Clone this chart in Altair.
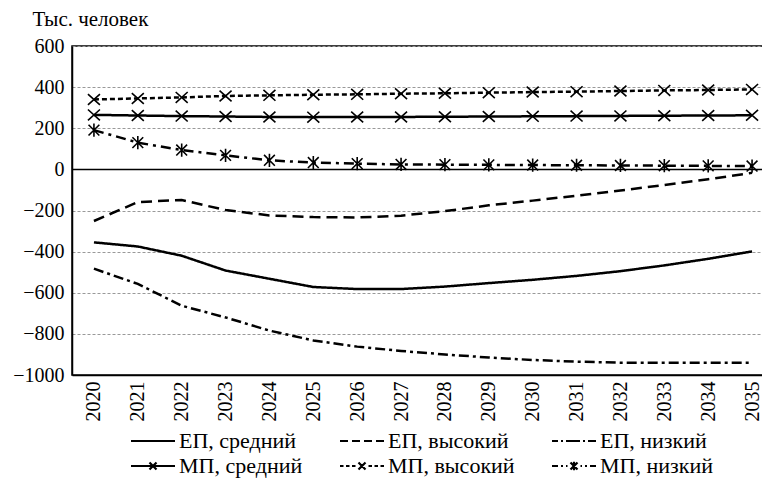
import altair as alt
import pandas as pd

years = [str(y) for y in range(2020, 2036)]

series_names = ["ЕП, средний", "ЕП, высокий", "ЕП, низкий",
                "МП, средний", "МП, высокий", "МП, низкий"]

ep_mid = [-355, -375, -420, -492, -532, -572, -582, -582, -570, -553, -537, -518, -495, -467, -435, -399]
ep_high = [-251, -159, -149, -198, -224, -232, -234, -225, -203, -175, -152, -128, -103, -76, -48, -17]
ep_low = [-483, -557, -663, -720, -784, -832, -862, -883, -900, -915, -927, -935, -940, -940, -940, -940]
mp_mid = [265, 262, 259, 257, 255, 254, 255, 255, 256, 257, 258, 259, 260, 261, 262, 263]
mp_high = [340, 345, 350, 357, 360, 363, 365, 368, 370, 373, 376, 378, 381, 384, 386, 389]
mp_low = [191, 130, 94, 68, 44, 33, 28, 24, 23, 22, 21, 20, 19, 18, 17, 16]

y_ticks = [-1000, -800, -600, -400, -200, 0, 200, 400, 600]
zero_line = [0]

all_values = [ep_mid, ep_high, ep_low, mp_mid, mp_high, mp_low]
rows = []
for name, vals in zip(series_names, all_values):
    for yr, v in zip(years, vals):
        rows.append({"year": yr, "value": v, "series": name})
df = pd.DataFrame(rows)

mp_names = series_names[3:]

dash_scale = alt.Scale(domain=series_names,
                       range=[[1, 0], [11, 6], [10, 4, 3, 4], [1, 0], [5, 3], [10, 5, 3, 5]])
width_scale = alt.Scale(domain=series_names, range=[2.5, 2.5, 2.5, 2.2, 2.2, 2.2])

FONT = "'Liberation Serif', 'Times New Roman', 'DejaVu Serif', serif"

x_enc = alt.X("year:O", scale=alt.Scale(type="point", padding=0.5),
              axis=alt.Axis(title=None, labelAngle=-90, grid=False, ticks=False,
                            labelPadding=6, domainColor="black", domainWidth=1.5,
                            labelFont=FONT, labelFontSize=20, labelColor="black"))
y_enc = alt.Y("value:Q", scale=alt.Scale(domain=[-1000, 600], nice=False, zero=False),
              axis=alt.Axis(values=y_ticks, format="d", title="Тыс. человек", titleAngle=0,
                            titleAlign="left", titleBaseline="alphabetic",
                            titleX=-40, titleY=-21, titleFont=FONT, titleFontSize=21,
                            titleFontWeight="normal", titleColor="black",
                            labelFont=FONT, labelFontSize=20, labelColor="black",
                            labelPadding=8, ticks=False, domainColor="black",
                            domainWidth=1.5, grid=True, gridColor="#999999",
                            gridDash=[3, 2], gridWidth=1))

base = alt.Chart(df)

lines = base.mark_line(color="black").encode(
    x=x_enc, y=y_enc,
    strokeDash=alt.StrokeDash("series:N", scale=dash_scale, legend=None),
    strokeWidth=alt.StrokeWidth("series:N", scale=width_scale, legend=None),
)

marker_scale = alt.Scale(
    domain=mp_names,
    range=["M-1,-0.9L1,0.9M-1,0.9L1,-0.9",
           "M-1,-0.9L1,0.9M-1,0.9L1,-0.9",
           "M-0.9,-0.9L0.9,0.9M-0.9,0.9L0.9,-0.9M0,-1.1L0,1.1"])

points = base.transform_filter(
    alt.FieldOneOfPredicate(field="series", oneOf=mp_names)
).mark_point(filled=False, color="black", opacity=1, size=144, strokeWidth=1.6).encode(
    x="year:O", y="value:Q",
    shape=alt.Shape("series:N", scale=marker_scale, legend=None),
)

# legend symbols: segments in px (symbol unit = 8 px)
U = 8.0


def segs(pairs):
    return "".join(f"M{a / U:.3f},0L{b / U:.3f},0" for a, b in pairs)


def xmark(r=3.5):
    k = r / U
    return f"M{-k:.3f},{-k:.3f}L{k:.3f},{k:.3f}M{-k:.3f},{k:.3f}L{k:.3f},{-k:.3f}"


def vbar(r=4.2):
    k = r / U
    return f"M0,{-k:.3f}L0,{k:.3f}"


sym_solid = segs([(-22, 22)])
sym_dash = segs([(-22, -14), (-10, -2), (2, 10), (14, 22)])
sym_dashdot = segs([(-22, -16), (-13, -11), (-8, 6), (9, 11), (14, 22)])
sym_mp_mid = segs([(-22, 22)]) + xmark()
sym_mp_high = segs([(-22, -18.5), (-16, -12.5), (-10, -6.5), (6.5, 10), (12.5, 16), (18.5, 22)]) + xmark()
sym_mp_low = segs([(-22, -16), (-13, -11), (-8, -6.5), (6.5, 8), (11, 13), (16, 22)]) + xmark() + vbar()

legend_scale = alt.Scale(domain=series_names,
                         range=[sym_solid, sym_dash, sym_dashdot, sym_mp_mid, sym_mp_high, sym_mp_low])

leg = alt.Legend(title=None, orient="none", legendX=70, legendY=384, columns=3,
                 direction="horizontal", columnPadding=32, rowPadding=3, padding=0,
                 symbolSize=256, symbolStrokeWidth=2.2, symbolStrokeColor="black",
                 symbolFillColor="transparent", symbolOpacity=1, labelOffset=15,
                 labelFont=FONT, labelFontSize=22, labelColor="black", labelLimit=300)

legend_layer = base.mark_point(filled=False, color="black", opacity=0).encode(
    x="year:O", y="value:Q",
    shape=alt.Shape("series:N", scale=legend_scale, legend=leg),
)

zero = alt.Chart(pd.DataFrame({"z": zero_line})).mark_rule(color="black", strokeWidth=1.5).encode(
    y="z:Q")

chart = alt.layer(lines, zero, points, legend_layer).resolve_scale(
    shape="independent"
).properties(
    width=702, height=329,
    autosize=alt.AutoSizeParams(type="none"),
    padding={"left": 64, "top": 38, "right": -12, "bottom": 115},
).configure_view(stroke="black", strokeWidth=1.5)

chart.save("out.html", embed_options={"renderer": "svg", "actions": False})
